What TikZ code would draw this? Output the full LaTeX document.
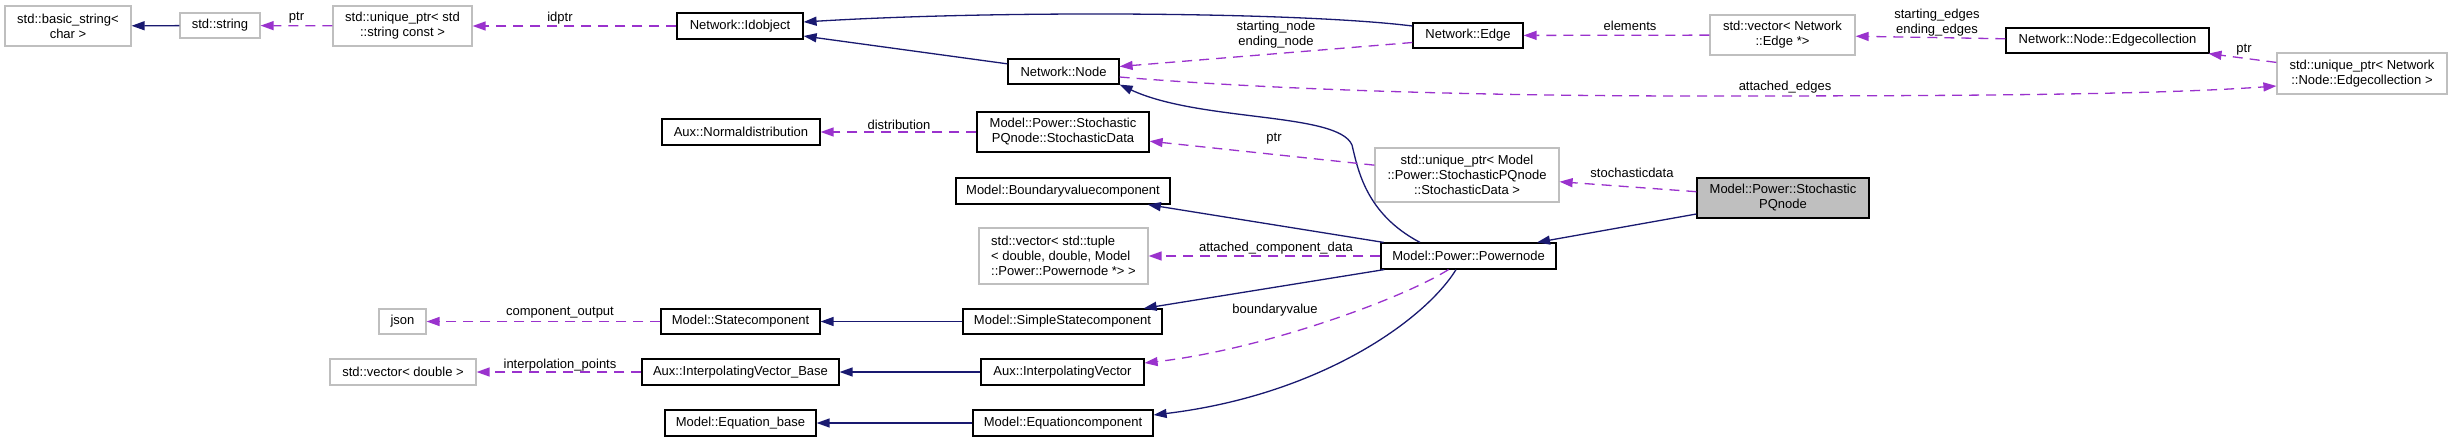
\documentclass[tikz,border=0pt]{standalone}
\usepackage{fontspec}
\setmainfont{Liberation Sans}
\usetikzlibrary{arrows.meta}
\definecolor{inhblue}{HTML}{191970}
\definecolor{usepurple}{HTML}{9A32CD}
\definecolor{extgray}{HTML}{BFBFBF}
\tikzset{
  cls/.style={draw=black, line width=1.2pt, fill=white, align=center},
  ext/.style={draw=extgray, line width=1.2pt, fill=white, align=center},
  cur/.style={draw=black, line width=1.2pt, fill=extgray, align=center},
  wh/.style 2 args={minimum width=#1, minimum height=#2},
  inh/.style={draw=inhblue, line width=1.3pt, -{Triangle[length=13pt,width=9pt]}},
  use/.style={draw=usepurple, line width=1.3pt, dash pattern=on 10pt off 7pt, -{Triangle[length=13pt,width=9pt]}},
  lbl/.style={align=center}
}

\begin{document}
\begin{tikzpicture}[x=1pt,y=-1pt,
  every node/.style={font=\fontsize{13}{15}\selectfont, inner sep=0pt}]
\path[fill=white] (0,0) rectangle (2452,442);
\useasboundingbox (0,0) rectangle (2452,442);

\node[ext, wh={126}{40}] (bstr) at (68,26) {std::basic\_string<\\char >};
\node[ext, wh={80}{25}] (str) at (220,25.5) {std::string};
\node[ext, wh={139}{40}] (uptrstr) at (402.5,26) {std::unique\_ptr< std\\::string const >};
\node[cls, wh={126}{26}] (idobj) at (740,26) {Network::Idobject};
\node[cls, wh={110}{25}] (edge) at (1468,35.5) {Network::Edge};
\node[cls, wh={111}{25}] (nnode) at (1063.5,71.5) {Network::Node};
\node[ext, wh={145}{40}] (vecedge) at (1782.5,35) {std::vector< Network\\::Edge *>};
\node[cls, wh={203}{25}] (ecoll) at (2107.5,40.5) {Network::Node::Edgecollection};
\node[ext, wh={170}{41}] (uptrecoll) at (2362,73.5) {std::unique\_ptr< Network\\::Node::Edgecollection >};
\node[cls, wh={158}{26}] (ndist) at (741,132) {Aux::Normaldistribution};
\node[cls, wh={172}{40}] (sdata) at (1063,132) {Model::Power::Stochastic\\PQnode::StochasticData};
\node[ext, wh={184}{54}] (uptrsdata) at (1467,175) {std::unique\_ptr< Model\\::Power::StochasticPQnode\\::StochasticData >};
\node[cur, wh={172}{40}] (spq) at (1783,198) {Model::Power::Stochastic\\PQnode};
\node[cls, wh={214}{26}] (bvc) at (1063,191) {Model::Boundaryvaluecomponent};
\node[ext, wh={169}{56}, align=left] (vectuple) at (1063.5,256) {std::vector< std::tuple\\< double, double, Model\\::Power::Powernode *> >};
\node[cls, wh={175}{26}] (pnode) at (1468.5,256) {Model::Power::Powernode};
\node[ext, wh={47}{25}] (json) at (402.5,321.5) {json};
\node[cls, wh={159}{25}] (stc) at (740.5,321.5) {Model::Statecomponent};
\node[cls, wh={199}{25}] (sstc) at (1062.5,321.5) {Model::SimpleStatecomponent};
\node[ext, wh={146}{26}] (vecdbl) at (403,372) {std::vector< double >};
\node[cls, wh={197}{26}] (ivb) at (740.5,372) {Aux::InterpolatingVector\_Base};
\node[cls, wh={163}{26}] (ivec) at (1062.5,372) {Aux::InterpolatingVector};
\node[cls, wh={151}{26}] (eqb) at (740.5,423) {Model::Equation\_base};
\node[cls, wh={180}{26}] (eqc) at (1063,423) {Model::Equationcomponent};

\draw[inh] (str) -- (bstr);
\draw[use] (uptrstr) -- (str);
\draw[use] (idobj) -- (uptrstr);
\draw[inh] ([yshift=9.5pt]edge.west) .. controls (1300,12) and (1000,10) .. ([yshift=4pt]idobj.east);
\draw[inh] (nnode) -- ([yshift=-10pt]idobj.east);
\draw[use] ([yshift=-7pt]edge.west) -- ([yshift=5pt]nnode.east);
\draw[use] (vecedge) -- (edge);
\draw[use] (ecoll) -- (vecedge);
\draw[use] (uptrecoll) -- (ecoll);
\draw[use] ([yshift=-5.5pt]nnode.east) .. controls (1250,88) and (1450,96) .. (1700,96)
      .. controls (1950,96) and (2150,95) .. ([yshift=-12.5pt]uptrecoll.west);
\draw[inh] ([xshift=-48.5pt]pnode.north) .. controls (1366,214) and (1358,170) .. (1352,145)
      .. controls (1338,112) and (1200,122) .. (nnode.south east);
\draw[use] (spq) -- (uptrsdata);
\draw[use] (uptrsdata) -- (sdata);
\draw[use] (sdata) -- (ndist);
\draw[inh] ([yshift=-16pt]spq.west) -- ([xshift=68.5pt]pnode.north);
\draw[inh] (pnode) -- (bvc);
\draw[use] (pnode) -- (vectuple);
\draw[inh] (pnode) -- (sstc);
\draw[use] ([xshift=-20pt]pnode.south) .. controls (1400,300) and (1260,350) .. ([yshift=9pt]ivec.east);
\draw[inh] ([xshift=-12.5pt]pnode.south) .. controls (1425,320) and (1320,395) .. ([yshift=8pt]eqc.east);
\draw[inh] (sstc) -- (stc);
\draw[use] (stc) -- (json);
\draw[inh] (ivec) -- (ivb);
\draw[use] (ivb) -- (vecdbl);
\draw[inh] (eqc) -- (eqb);

\node[lbl] (lptrstr) at (296.5,18) {ptr};
\node[lbl] (lidptr) at (560,18) {idptr};
\node[lbl] (lnodes) at (1276,34.5) {starting\_node\\ending\_node};
\node[lbl] (lelements) at (1630,26) {elements};
\node[lbl] (ledges) at (1937,22.5) {starting\_edges\\ending\_edges};
\node[lbl] (lptrecoll) at (2244,50) {ptr};
\node[lbl] (lattached) at (1785,87) {attached\_edges};
\node[lbl] (ldist) at (899,125) {distribution};
\node[lbl] (lptrsdata) at (1274,139) {ptr};
\node[lbl] (lsdata) at (1632,173) {stochasticdata};
\node[lbl] (lcompdata) at (1276,248) {attached\_component\_data};
\node[lbl] (lbval) at (1275,310) {boundaryvalue};
\node[lbl] (lcompout) at (560,313) {component\_output};
\node[lbl] (linterp) at (560,365) {interpolation\_points};
\end{tikzpicture}
\end{document}
